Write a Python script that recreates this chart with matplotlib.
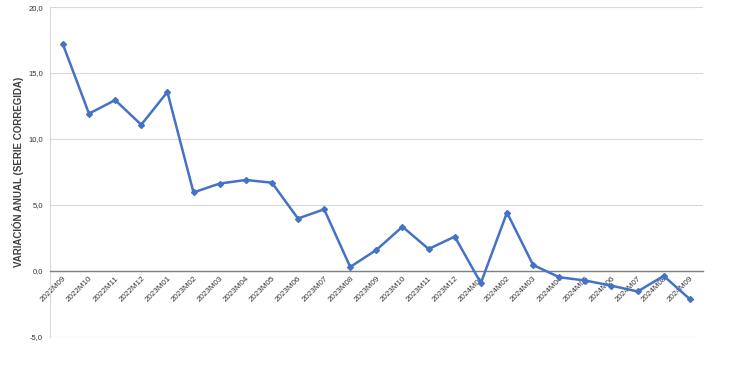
import matplotlib
matplotlib.use("Agg")
import matplotlib.pyplot as plt
from matplotlib.ticker import FuncFormatter
import matplotlib.transforms as mtransforms

plt.rcParams['font.family'] = ['Liberation Sans', 'DejaVu Sans']

periods = ["2022M09", "2022M10", "2022M11", "2022M12", "2023M01", "2023M02", "2023M03",
           "2023M04", "2023M05", "2023M06", "2023M07", "2023M08", "2023M09", "2023M10",
           "2023M11", "2023M12", "2024M01", "2024M02", "2024M03", "2024M04", "2024M05",
           "2024M06", "2024M07", "2024M08", "2024M09"]
values = [17.18, 11.92, 12.95, 11.08, 13.56, 5.95, 6.62, 6.89, 6.69, 3.97, 4.67, 0.30,
          1.59, 3.35, 1.66, 2.60, -0.92, 4.42, 0.45, -0.48, -0.73, -1.12, -1.56, -0.38, -2.14]
y_ticks = [-5, 0, 5, 10, 15, 20]

fig = plt.figure(figsize=(7.55, 3.71), dpi=100)
ax = fig.add_axes([0.066, 0.092, 0.865, 0.889])

x = list(range(len(periods)))
ax.plot(x, values, color='#4472C4', linewidth=1.8, marker='D', markersize=3,
        markerfacecolor='#4472C4', markeredgecolor='#4472C4', zorder=3)

ax.set_xlim(-0.5, len(periods) - 0.5)
ax.set_ylim(-5, 20)
ax.set_yticks(y_ticks)
ax.yaxis.set_major_formatter(FuncFormatter(lambda v, p: f"{v:.1f}".replace('.', ',')))
ax.grid(axis='y', color='#D9D9D9', linewidth=0.8)
ax.set_axisbelow(True)

for s in ['top', 'right']:
    ax.spines[s].set_visible(False)
ax.spines['left'].set_color('#D9D9D9')
ax.spines['left'].set_linewidth(0.8)
ax.spines['bottom'].set_position(('data', 0))
ax.spines['bottom'].set_color('#808080')
ax.spines['bottom'].set_linewidth(1.0)

ax.set_xticks(x)
ax.set_xticklabels(periods, rotation=45, ha='right', rotation_mode='anchor',
                   fontsize=5.8, color='#333333')
offset = mtransforms.ScaledTranslation(5/72, 0, fig.dpi_scale_trans)
for lab in ax.get_xticklabels():
    lab.set_transform(lab.get_transform() + offset)
ax.tick_params(axis='x', length=0, pad=3)
ax.tick_params(axis='y', length=0, labelsize=5.5, labelcolor='#333333', pad=5)

ax.set_ylabel("VARIACIÓN ANUAL (SERIE CORREGIDA)", fontsize=7, fontweight='bold',
              color='#404040', labelpad=3)

fig.savefig("out.png", dpi=100, facecolor='white')
